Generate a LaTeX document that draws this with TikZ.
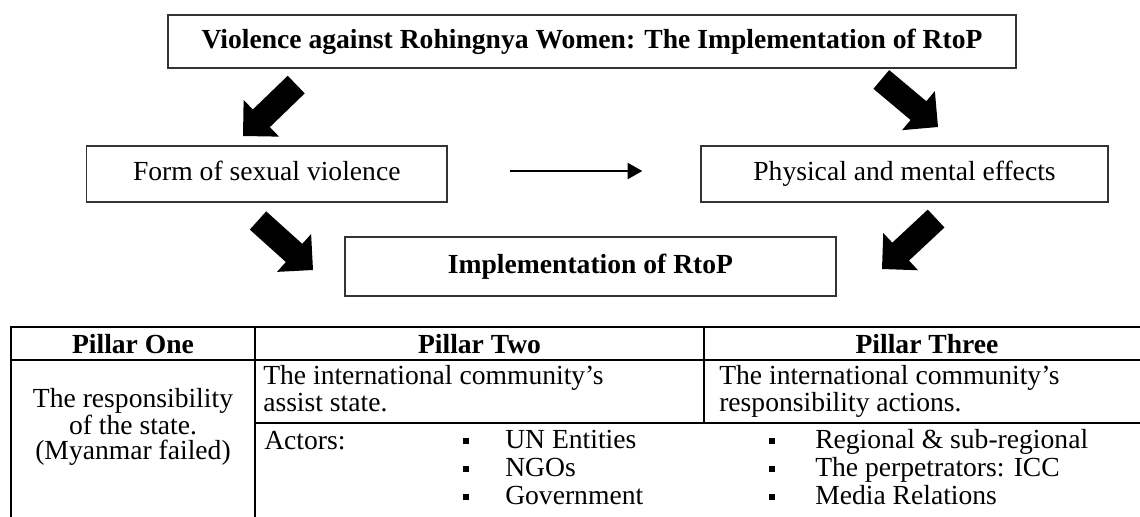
\documentclass[tikz,border=0pt]{standalone}
\usepackage{fontspec}
\setmainfont{Liberation Serif}
\usetikzlibrary{arrows.meta}
\begin{document}
\begin{tikzpicture}[x=0.75pt,y=-0.75pt,
  box/.style={draw=black!80, line width=1pt, inner sep=0pt, text height=14pt, text depth=4pt, font=\fontsize{20.7}{24}\selectfont},
  tbl/.style={line width=1.6pt, black},
  txt/.style={inner sep=0pt, font=\fontsize{20.7}{24}\selectfont},
  bold/.style={inner sep=0pt, font=\fontsize{20.7}{24}\selectfont\bfseries},
  bul/.style={fill=black, inner sep=0pt, minimum size=5pt},
  thinarrow/.style={line width=1.5pt, -{Triangle[length=11pt,width=12pt]}},
  blk/.pic={\fill[black] (0,0) -- (-25.5,25.5) -- (-25.5,12.25) -- (-74,12.25) -- (-74,-12.25) -- (-25.5,-12.25) -- (-25.5,-25.5) -- cycle;},
]
\useasboundingbox[fill=white] (0,0) rectangle (1140,517);

% boxes
\node[box, minimum width=636pt, minimum height=39.75pt] (title) at (592,41.5) {\bfseries Violence against Rohingnya Women: The Implementation of RtoP};
\node[box, minimum width=270.4pt, minimum height=42pt] (form) at (266.75,174) {Form of sexual violence};
\node[box, minimum width=305.25pt, minimum height=42pt] (phys) at (904.5,174) {Physical and mental effects};
\node[box, minimum width=368.25pt, minimum height=44.25pt] (impl) at (590.5,266.5) {\bfseries Implementation of RtoP};

% thin arrow
\draw[thinarrow, shorten <=46.5pt, shorten >=43.5pt] ([yshift=2.25pt]form.east) -- ([yshift=2.25pt]phys.west);

% block arrows
\path (243,136) pic[rotate=224] {blk};
\path (938,127) pic[rotate=-40] {blk};
\path (313,270) pic[rotate=-42] {blk};
\path (882,269) pic[rotate=223] {blk};

% table lines
\draw[tbl] (11,530) -- (11,327) -- (1150,327);
\draw[tbl] (11,360) -- (1150,360);
\draw[tbl] (255,327) -- (255,530);
\draw[tbl] (704,327) -- (704,423);
\draw[tbl] (255,423) -- (1150,423);

% headers
\node[bold, anchor=base] (p1) at (133,353) {Pillar One};
\node[bold, anchor=base] (p2) at (479.5,353) {Pillar Two};
\node[bold, anchor=base] (p3) at (927,353) {Pillar Three};

% pillar one
\node[txt, align=center, font=\fontsize{20.7}{18.9}\selectfont] (r1) at (133,427) {The responsibility\\of the state.\\(Myanmar failed)};

% pillar two / three row
\node[txt, anchor=base west] (r2a) at (263,384) {The international community’s};
\node[txt, anchor=base west] (r2b) at (263,411) {assist state.};
\node[txt, anchor=base west] (r3a) at (719,384) {The international community’s};
\node[txt, anchor=base west] (r3b) at (719,411) {responsibility actions.};

% actors
\node[txt, anchor=base west] (act) at (264,449) {Actors:};
\node[bul] (b21) at (466,441) {};
\node[bul] (b22) at (466,469) {};
\node[bul] (b23) at (466,497) {};
\node[txt, anchor=base west] (t21) at (505,448) {UN Entities};
\node[txt, anchor=base west] (t22) at (505,476) {NGOs};
\node[txt, anchor=base west] (t23) at (505,504) {Government};
\node[bul] (b31) at (772,441) {};
\node[bul] (b32) at (772,469) {};
\node[bul] (b33) at (772,497) {};
\node[txt, anchor=base west] (t31) at (815,448) {Regional \& sub-regional};
\node[txt, anchor=base west] (t32) at (815,476) {The perpetrators: ICC};
\node[txt, anchor=base west] (t33) at (815,504) {Media Relations};
\end{tikzpicture}
\end{document}
